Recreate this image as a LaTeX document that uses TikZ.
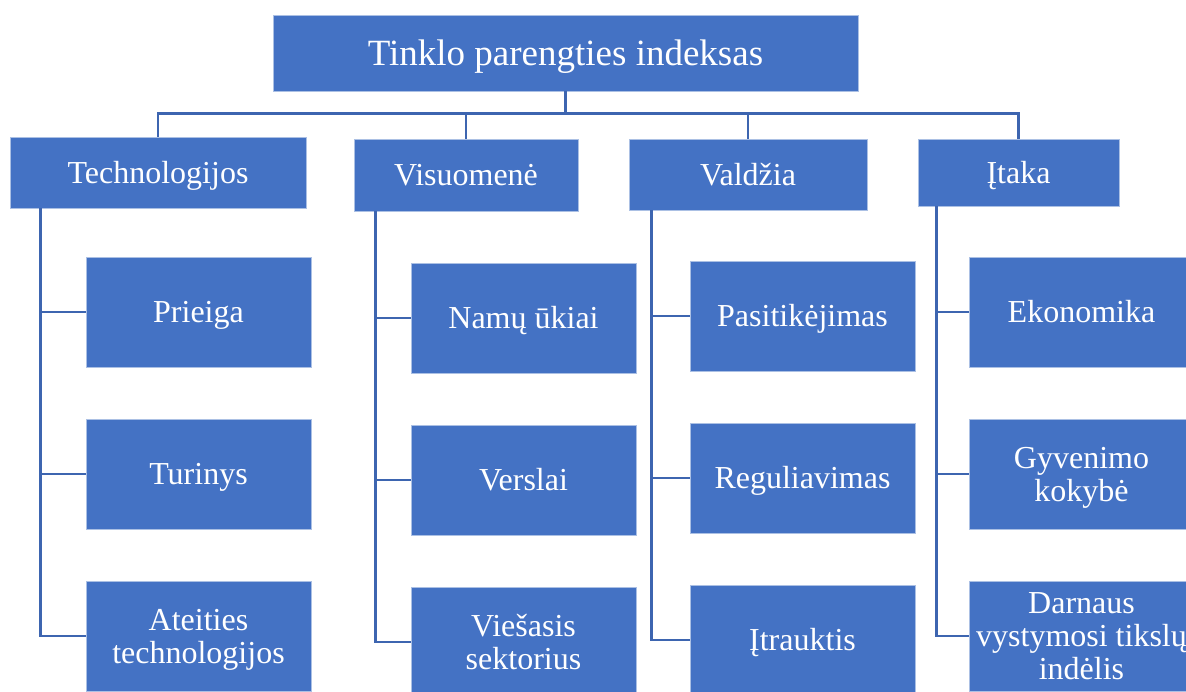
\documentclass[tikz,border=0pt]{standalone}
\usepackage{fontspec}
\setmainfont{Liberation Serif}
\definecolor{boxblue}{HTML}{4472C4}
\definecolor{lineblue}{HTML}{3D65B0}

\begin{document}
\begin{tikzpicture}[x=1pt, y=-1pt,
  box/.style={draw=white!55!boxblue, line width=0.8pt, fill=boxblue, text=white, align=center, inner sep=0pt,
    text height=21pt, text depth=0pt},
  multi/.style={text height={}, text depth=0pt},
  plain/.style={},
  root/.style={box, minimum width=585, minimum height=76, text height=24.5pt, font=\fontsize{37}{40}\selectfont},
  cat/.style={box, minimum height=71, font=\fontsize{32}{34}\selectfont},
  leaf/.style={box, minimum width=225, minimum height=110, font=\fontsize{32}{33}\selectfont},
  conn/.style={draw=lineblue, line width=2.6pt}]
  \useasboundingbox (0,0) rectangle (1186,691);
  \clip (0,0) rectangle (1186,691);
  % indeksas ir keturios sritys
  \node[root] (root) at (565.5,53) {Tinklo parengties indeksas};
  \node[cat, minimum width=296] (tech) at (158,172.5) {Technologijos};
  \node[cat, minimum width=224, minimum height=72] (vis) at (466,175) {Visuomenė};
  \node[cat, minimum width=238] (val) at (748,174.5) {Valdžia};
  \node[cat, minimum width=201, minimum height=67] (ita) at (1018.5,172.5) {Įtaka};
  \foreach \c in {tech, vis, val, ita} {
    \draw[conn] (root.south) -- ++(0,22) -| (\c.north);
  }
  % rodikliai po kiekviena sritimi
  \foreach \n/\y/\lab/\st in {pri/312/Prieiga/plain, tur/474/Turinys/plain, ate/636/{Ateities\\technologijos}/multi} {
    \node[leaf, \st] (\n) at (198.5,\y) {\lab};
    \draw[conn] ([xshift=31]tech.south west) |- (\n.west);
  }
  \foreach \n/\y/\lab/\st in {nam/318/Namų ūkiai/plain, ver/480/Verslai/plain, vie/642/{Viešasis\\sektorius}/multi} {
    \node[leaf, \st] (\n) at (523.5,\y) {\lab};
    \draw[conn] ([xshift=22]vis.south west) |- (\n.west);
  }
  \foreach \n/\y/\lab in {pas/316/Pasitikėjimas, reg/478/Reguliavimas, itr/640/Įtrauktis} {
    \node[leaf] (\n) at (802.5,\y) {\lab};
    \draw[conn] ([xshift=23]val.south west) |- (\n.west);
  }
  \foreach \n/\y/\lab/\st in {eko/312/Ekonomika/plain, gyv/474/{Gyvenimo\\kokybė}/multi, dar/636/{Darnaus\\vystymosi tikslų\\indėlis}/multi} {
    \node[leaf, \st] (\n) at (1081.5,\y) {\lab};
    \draw[conn] ([xshift=19]ita.south west) |- (\n.west);
  }
\end{tikzpicture}
\end{document}
